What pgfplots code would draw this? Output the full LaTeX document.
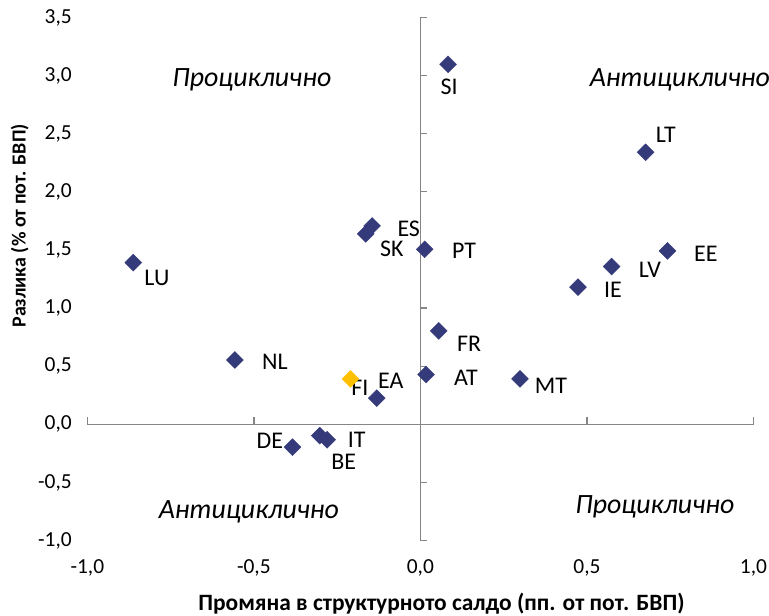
\documentclass[border=0pt]{standalone}
\usepackage{fontspec}
\setmainfont{Carlito}
\usepackage{pgfplots}
\pgfplotsset{compat=1.18}
\definecolor{navy}{HTML}{353B7A}
\definecolor{gold}{HTML}{FFC000}
\definecolor{axgray}{HTML}{868686}
\begin{document}
\begin{tikzpicture}
\begin{axis}[
  scale only axis, width=666bp, height=523bp,
  xmin=-1, xmax=1, ymin=-1, ymax=3.5,
  axis lines=middle,
  axis line style={axgray, line width=1.3bp, -},
  xtick={-1,-0.5,0,0.5,1},
  xticklabels={{-1,0},{-0,5},{0,0},{0,5},{1,0}},
  ytick={-1,-0.5,0,0.5,1,1.5,2,2.5,3,3.5},
  yticklabels={{-1,0},{-0,5},{0,0},{0,5},{1,0},{1,5},{2,0},{2,5},{3,0},{3,5}},
  hide obscured x ticks=false, hide obscured y ticks=false,
  tick align=inside,
  major tick length=7bp,
  tick style={axgray, line width=1.3bp},
  tick label style={font=\fontsize{21.5}{25}\selectfont},
  xticklabel shift=132bp,
  yticklabel shift=345bp,
  clip=false,
]
\addplot[only marks, mark=square*, mark size=6pt, mark options={rotate=45, fill=navy, draw=navy}] coordinates {
(0.083,3.097) (0.676,2.340) (-0.145,1.707) (-0.164,1.638) (0.013,1.506)
(0.574,1.357) (0.742,1.492) (0.473,1.180) (0.055,0.804) (0.017,0.428)
(0.299,0.391) (-0.131,0.225) (-0.862,1.391) (-0.557,0.554) (-0.384,-0.196)
(-0.302,-0.097) (-0.280,-0.133)
};
\addplot[only marks, mark=square*, mark size=6pt, mark options={rotate=45, fill=gold, draw=gold}] coordinates {
(-0.210,0.391)
};
\begin{scope}[every node/.style={font=\fontsize{24}{28}\selectfont, inner sep=0pt}]
\node at (axis cs:0.086,2.902) {SI};
\node at (axis cs:0.737,2.489) {LT};
\node at (axis cs:-0.035,1.681) {ES};
\node at (axis cs:-0.086,1.509) {SK};
\node at (axis cs:0.131,1.492) {PT};
\node at (axis cs:0.857,1.466) {EE};
\node at (axis cs:0.689,1.328) {LV};
\node at (axis cs:0.578,1.156) {IE};
\node at (axis cs:0.146,0.692) {FR};
\node at (axis cs:0.137,0.400) {AT};
\node at (axis cs:0.392,0.331) {MT};
\node at (axis cs:-0.182,0.314) {FI};
\node at (axis cs:-0.089,0.374) {EA};
\node at (axis cs:-0.791,1.260) {LU};
\node at (axis cs:-0.437,0.535) {NL};
\node at (axis cs:-0.452,-0.142) {DE};
\node at (axis cs:-0.191,-0.133) {IT};
\node at (axis cs:-0.230,-0.322) {BE};
\end{scope}
\begin{scope}[every node/.style={font=\fontsize{28}{32}\selectfont\itshape, inner sep=0pt}]
\node at (axis cs:-0.506,2.962) {Проциклично};
\node at (axis cs:0.779,2.962) {Антициклично};
\node at (axis cs:-0.515,-0.752) {Антициклично};
\node at (axis cs:0.704,-0.709) {Проциклично};
\end{scope}
\node[font=\fontsize{23.5}{27}\selectfont\bfseries, inner sep=0pt] at (axis cs:0.063,-1.543) {Промяна в структурното салдо (пп. от пот. БВП)};
\node[font=\fontsize{20}{24}\selectfont\bfseries, inner sep=0pt, rotate=90] at (axis cs:-1.2027,1.707) {Разлика (\% от пот. БВП)};
\coordinate (bl) at (axis cs:-1,-1);
\coordinate (tr) at (axis cs:1,3.5);
\end{axis}
\pgfresetboundingbox
\path[use as bounding box] ([xshift=-87.3bp,yshift=-75.2bp]bl) rectangle ([xshift=15.5bp,yshift=17.45bp]tr);
\end{tikzpicture}
\end{document}
